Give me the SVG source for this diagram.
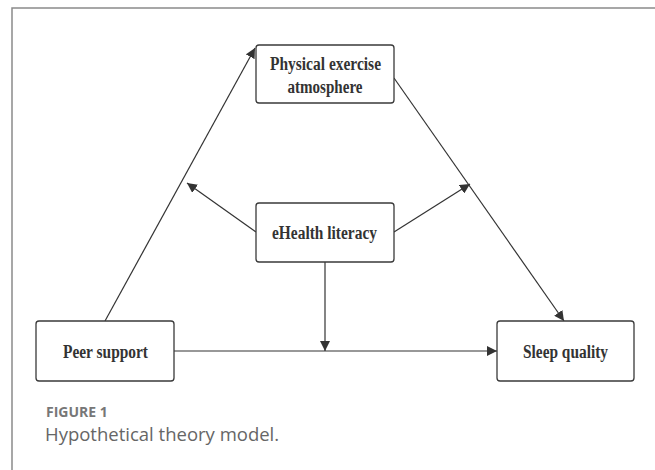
<svg xmlns="http://www.w3.org/2000/svg" width="655" height="470" viewBox="0 0 655 470">
<defs>
<style>
.box{fill:#fff;stroke:#3a3a3a;stroke-width:1.3}
.lbl{font-family:"Liberation Serif",serif;font-weight:bold;font-size:18.5px;fill:#333;text-anchor:middle}
.edge{stroke:#333;stroke-width:1.2;fill:none;marker-end:url(#ah)}
</style>
<marker id="ah" viewBox="0 0 10 10" refX="10" refY="5" markerWidth="10" markerHeight="10" markerUnits="userSpaceOnUse" orient="auto">
<path d="M0,0 L10,5 L0,10 z" fill="#333"/>
</marker>
</defs>
<rect width="655" height="470" fill="#fff"/>
<path d="M12,480 V8 H665" fill="none" stroke="#8a8a8a" stroke-width="1.5"/>
<g id="connectors">
<line class="edge" x1="105" y1="321" x2="255" y2="48"/>
<line class="edge" x1="394" y1="78" x2="564" y2="321"/>
<line class="edge" x1="174" y1="351" x2="497" y2="351"/>
<line class="edge" x1="325" y1="262" x2="325" y2="351"/>
<line class="edge" x1="256" y1="232" x2="187" y2="183"/>
<line class="edge" x1="394" y1="232" x2="470" y2="184"/>
</g>
<g id="physical">
<rect class="box" x="256" y="45" width="138" height="58" rx="3"/>
<text class="lbl" x="325.5" y="70" textLength="111" lengthAdjust="spacingAndGlyphs">Physical exercise</text>
<text class="lbl" x="325" y="93" textLength="75" lengthAdjust="spacingAndGlyphs">atmosphere</text>
</g>
<g id="ehealth">
<rect class="box" x="256" y="203" width="138" height="59" rx="3"/>
<text class="lbl" x="324.5" y="238.5" textLength="105" lengthAdjust="spacingAndGlyphs">eHealth literacy</text>
</g>
<g id="peer">
<rect class="box" x="36" y="321" width="138" height="60" rx="3"/>
<text class="lbl" x="105.5" y="358" textLength="85" lengthAdjust="spacingAndGlyphs">Peer support</text>
</g>
<g id="sleep">
<rect class="box" x="497" y="321" width="137" height="60" rx="3"/>
<text class="lbl" x="565.5" y="358" textLength="85" lengthAdjust="spacingAndGlyphs">Sleep quality</text>
</g>
<text x="46" y="416.5" font-family="'Open Sans',sans-serif" font-weight="bold" font-size="14" fill="#777">FIGURE 1</text>
<text x="45" y="441" font-family="'Open Sans',sans-serif" font-size="18.5" fill="#666">Hypothetical theory model.</text>
</svg>
